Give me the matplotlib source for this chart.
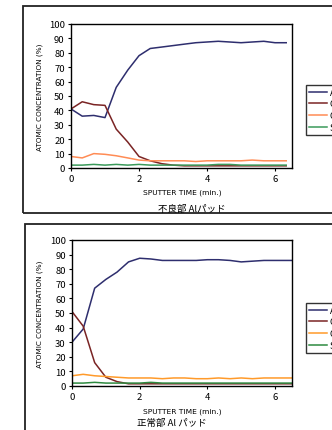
import matplotlib
matplotlib.use("Agg")
import matplotlib.pyplot as plt
from matplotlib.patches import Rectangle

plt.rcParams['font.family'] = ['Noto Sans CJK JP', 'DejaVu Sans']

# スパッタ時間 (min.)
t_top = [0, 0.33, 0.67, 1.0, 1.33, 1.67, 2.0, 2.33, 2.67, 3.0, 3.33, 3.67,
         4.0, 4.33, 4.67, 5.0, 5.33, 5.67, 6.0, 6.33]
al_top = [41, 36, 36.5, 35, 56, 68, 78, 83, 84, 85, 86, 87,
          87.5, 88, 87.5, 87, 87.5, 88, 87, 87]
c_top = [41, 46, 44, 43.5, 27, 18, 8, 5, 3, 2, 1.5, 1.5,
         1.5, 1.5, 1.5, 1.5, 1.5, 1.5, 1.5, 1.5]
o_top = [8, 7, 10, 9.5, 8.5, 7, 5.5, 5, 5, 5, 5, 4.5,
         5, 5, 5, 5, 5.5, 5, 5, 5]
si_top = [2, 2, 2.5, 2, 2.5, 2, 2.5, 2, 2, 2, 2, 2,
          2, 2.5, 2.5, 2, 2, 2, 2, 2]

t_bot = [0, 0.33, 0.67, 1.0, 1.33, 1.67, 2.0, 2.33, 2.67, 3.0, 3.33, 3.67,
         4.0, 4.33, 4.67, 5.0, 5.33, 5.67, 6.0, 6.33, 6.67]
al_bot = [30, 39, 67, 73, 78, 85, 87.5, 87, 86, 86, 86, 86,
          86.5, 86.5, 86, 85, 85.5, 86, 86, 86, 86]
c_bot = [51, 41, 16, 6, 3, 1.5, 1.5, 1.5, 1.5, 1.5, 1.5, 1.5,
         1.5, 1.5, 1.5, 1.5, 1.5, 1.5, 1.5, 1.5, 1.5]
o_bot = [7, 8, 7, 6.5, 6, 5.5, 5.5, 5.5, 5, 5.5, 5.5, 5,
         5, 5.5, 5, 5.5, 5, 5.5, 5.5, 5.5, 5.5]
si_bot = [2, 2, 2.5, 2, 2, 2, 2, 2.5, 2, 2, 2, 2,
          2, 2, 2, 2, 2, 2, 2, 2, 2]

labels = ["Al", "C", "O", "Si"]
yticks = [0, 10, 20, 30, 40, 50, 60, 70, 80, 90, 100]
xticks = [0, 2, 4, 6]

W, H = 332, 431
fig = plt.figure(figsize=(W / 100, H / 100), dpi=100)


def box(x0, y0, x1, y1):
    # ピクセル座標 -> figure 座標
    return [x0 / W, 1 - y1 / H, (x1 - x0) / W, (y1 - y0) / H]


def panel(frame, axrect, t, series, colors, caption, cap_x, cap_y, xl_y, leg_y):
    fx = box(*frame)
    fig.patches.append(Rectangle((fx[0], fx[1]), fx[2], fx[3], transform=fig.transFigure,
                                 fill=False, edgecolor="#222222", linewidth=1.3))
    ax = fig.add_axes(box(*axrect))
    lines = []
    for ys, col, lab in zip(series, colors, labels):
        ln, = ax.plot(t, ys, color=col, linewidth=1.1, label=lab)
        lines.append(ln)
    ax.set_xlim(0, 6.5)
    ax.set_ylim(0, 100)
    ax.set_xticks(xticks)
    ax.set_yticks(yticks)
    ax.tick_params(labelsize=6.8, length=2.5, width=0.8, pad=2)
    for s in ax.spines.values():
        s.set_linewidth(1.0)
    fig.text(40 / W, 1 - ((axrect[1] + axrect[3]) / 2) / H, "ATOMIC CONCENTRATION (%)",
             rotation=90, ha="center", va="center", fontsize=5.2, family="DejaVu Sans")
    fig.text(182 / W, 1 - xl_y / H, "SPUTTER TIME (min.)", ha="center", va="center",
             fontsize=5.4, family="DejaVu Sans")
    fig.text(cap_x / W, 1 - cap_y / H, caption, ha="center", va="center", fontsize=6.8)
    fig.legend(lines, labels, loc="upper left", bbox_to_anchor=(306 / W, 1 - leg_y / H),
               fontsize=6.5, frameon=True, fancybox=False, edgecolor="black",
               handlelength=2.0, labelspacing=0.3, borderpad=0.3, handletextpad=0.3,
               borderaxespad=0)


panel((23, 7, 345, 214), (71, 25, 292, 169), t_top,
      [al_top, c_top, o_top, si_top], ["#2e2e6e", "#7a2424", "#ff8c55", "#3a9a5a"],
      "不良部 Alパッド", 192, 209, 193, 86)
panel((25, 225, 345, 445), (72, 241, 292, 387), t_bot,
      [al_bot, c_bot, o_bot, si_bot], ["#2e2e6e", "#7a2424", "#ff9a2a", "#2e8a40"],
      "正常部 Al パッド", 172, 423, 412, 304)

plt.savefig("out.png", dpi=100)
